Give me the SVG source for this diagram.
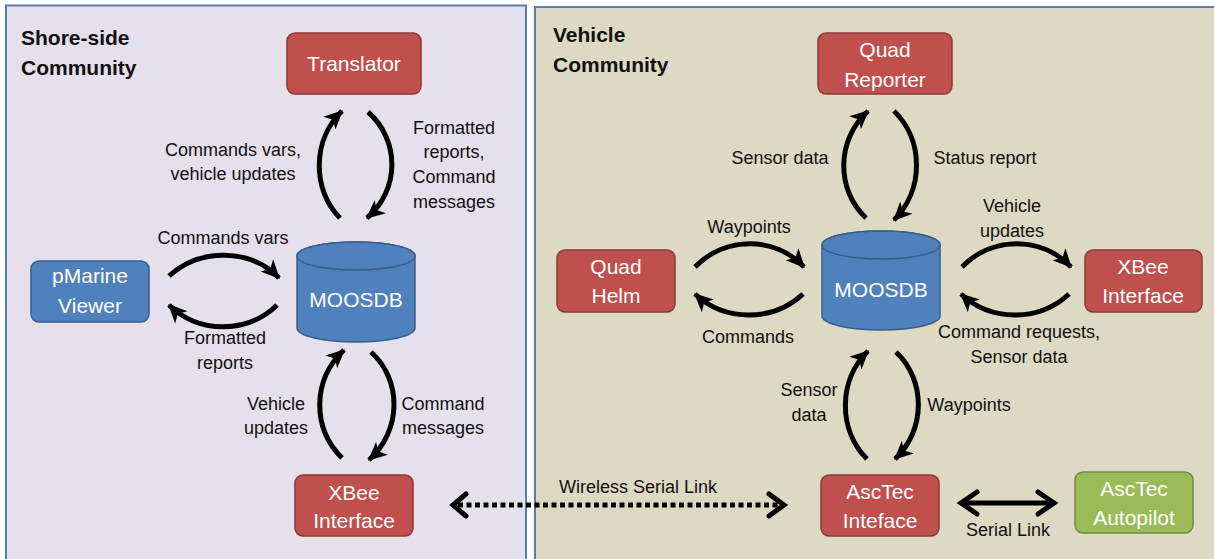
<svg xmlns="http://www.w3.org/2000/svg" width="1214" height="559" viewBox="0 0 1214 559">
<defs>
<style>
.panel{stroke:#5a7bab;stroke-width:2}
.red{fill:#c0504d;stroke:#8c3836;stroke-width:1.5}
.blue{fill:#4f81bd;stroke:#385d8a;stroke-width:1.5}
.green{fill:#9bbb59;stroke:#71893f;stroke-width:1.5}
.nt{font-family:"Liberation Sans",Arial,sans-serif;font-size:21px;fill:#fff;text-anchor:middle}
.lb{font-family:"Liberation Sans",Arial,sans-serif;font-size:18px;fill:#111;text-anchor:middle}
.tt{font-family:"Liberation Sans",Arial,sans-serif;font-size:21px;font-weight:bold;fill:#111}
.arc{fill:none;stroke:#000;stroke-width:5;marker-end:url(#ah)}
.chev{fill:none;stroke:#000;stroke-width:5;stroke-linejoin:miter;stroke-linecap:round}
</style>
<marker id="ah" markerUnits="userSpaceOnUse" viewBox="0 0 16 16" markerWidth="20" markerHeight="20" refX="14" refY="8" orient="auto">
<path d="M0,1 L15,8 L0,15 L4,8 Z" fill="#000"/>
</marker>
</defs>

<rect class="panel" x="6" y="5.5" width="520" height="600" fill="#e5e0ec"/>
<rect class="panel" x="535" y="7" width="700" height="600" fill="#ddd9c3"/>

<text class="tt" x="21" y="45">Shore-side</text>
<text class="tt" x="21" y="75">Community</text>
<text class="tt" x="553" y="42">Vehicle</text>
<text class="tt" x="553" y="72">Community</text>

<g id="connectors">
<path class="arc" d="M340,218 C312,190 312,140 342,111"/>
<path class="arc" d="M368,112 C400,140 400,190 367,218"/>
<path class="arc" d="M169,276 C200,248 250,248 279,278"/>
<path class="arc" d="M277,305 C248,334 198,334 169,305"/>
<path class="arc" d="M342,458 C312,428 312,380 344,350"/>
<path class="arc" d="M371,352 C402,380 402,430 369,460"/>
<path class="arc" d="M866,218 C836,190 836,140 868,111"/>
<path class="arc" d="M894,111 C924,140 924,190 894,220"/>
<path class="arc" d="M695,267 C725,236 775,236 804,267"/>
<path class="arc" d="M803,294 C773,322 725,322 695,294"/>
<path class="arc" d="M962,267 C992,236 1042,236 1071,267"/>
<path class="arc" d="M1069,294 C1039,322 991,322 961,294"/>
<path class="arc" d="M867,459 C838,430 838,380 868,351"/>
<path class="arc" d="M896,352 C926,380 926,430 895,459"/>
<line x1="458" y1="505" x2="782" y2="505" stroke="#000" stroke-width="5" stroke-dasharray="5 3.5"/>
<polyline class="chev" points="466,494 453,505 466,516"/>
<polyline class="chev" points="769,494 784,505 769,516"/>
<line x1="962" y1="503" x2="1053" y2="503" stroke="#000" stroke-width="5"/>
<polyline class="chev" points="977,492 961,503 977,514"/>
<polyline class="chev" points="1038,492 1054,503 1038,514"/>
</g>

<text class="lb" x="233" y="156">Commands vars,</text>
<text class="lb" x="233" y="180">vehicle updates</text>
<text class="lb" x="454" y="134">Formatted</text>
<text class="lb" x="454" y="158">reports,</text>
<text class="lb" x="454" y="183">Command</text>
<text class="lb" x="454" y="208">messages</text>
<text class="lb" x="223" y="244">Commands vars</text>
<text class="lb" x="225" y="344">Formatted</text>
<text class="lb" x="225" y="369">reports</text>
<text class="lb" x="276" y="410">Vehicle</text>
<text class="lb" x="276" y="434">updates</text>
<text class="lb" x="443" y="410">Command</text>
<text class="lb" x="443" y="434">messages</text>
<text class="lb" x="638" y="493">Wireless Serial Link</text>
<text class="lb" x="780" y="164">Sensor data</text>
<text class="lb" x="985" y="164">Status report</text>
<text class="lb" x="749" y="233">Waypoints</text>
<text class="lb" x="748" y="343">Commands</text>
<text class="lb" x="1012" y="212">Vehicle</text>
<text class="lb" x="1012" y="237">updates</text>
<text class="lb" x="1019" y="338">Command requests,</text>
<text class="lb" x="1019" y="363">Sensor data</text>
<text class="lb" x="809" y="396">Sensor</text>
<text class="lb" x="809" y="421">data</text>
<text class="lb" x="969" y="411">Waypoints</text>
<text class="lb" x="1008" y="536">Serial Link</text>

<g id="translator">
<rect class="red" x="287" y="33" width="134" height="61" rx="8"/>
<text class="nt" x="354" y="71">Translator</text>
</g>
<g id="pmarine">
<rect class="blue" x="31" y="261" width="118" height="61" rx="8"/>
<text class="nt" x="90" y="283">pMarine</text>
<text class="nt" x="90" y="313">Viewer</text>
</g>
<g id="moosdb-shore">
<path class="blue" d="M297,256 L297,328 A59,14 0 0 0 415,328 L415,256 A59,14 0 0 0 297,256 Z"/>
<ellipse class="blue" cx="356" cy="256" rx="59" ry="14"/>
<text class="nt" x="356" y="307">MOOSDB</text>
</g>
<g id="xbee-shore">
<rect class="red" x="295" y="475" width="118" height="61" rx="8"/>
<text class="nt" x="354" y="500">XBee</text>
<text class="nt" x="354" y="528">Interface</text>
</g>
<g id="quad-reporter">
<rect class="red" x="818" y="33" width="134" height="61" rx="8"/>
<text class="nt" x="885" y="57">Quad</text>
<text class="nt" x="885" y="87">Reporter</text>
</g>
<g id="quad-helm">
<rect class="red" x="557" y="250" width="118" height="62" rx="8"/>
<text class="nt" x="616" y="274">Quad</text>
<text class="nt" x="616" y="303">Helm</text>
</g>
<g id="moosdb-vehicle">
<path class="blue" d="M822,245 L822,316 A59,14 0 0 0 940,316 L940,245 A59,14 0 0 0 822,245 Z"/>
<ellipse class="blue" cx="881" cy="245" rx="59" ry="14"/>
<text class="nt" x="881" y="297">MOOSDB</text>
</g>
<g id="xbee-vehicle">
<rect class="red" x="1085" y="250" width="117" height="62" rx="8"/>
<text class="nt" x="1143" y="274">XBee</text>
<text class="nt" x="1143" y="303">Interface</text>
</g>
<g id="asctec-interface">
<rect class="red" x="821" y="475" width="118" height="61" rx="8"/>
<text class="nt" x="880" y="499">AscTec</text>
<text class="nt" x="880" y="528">Inteface</text>
</g>
<g id="asctec-autopilot">
<rect class="green" x="1075" y="472" width="118" height="61" rx="8"/>
<text class="nt" x="1134" y="496">AscTec</text>
<text class="nt" x="1134" y="525">Autopilot</text>
</g>
</svg>
